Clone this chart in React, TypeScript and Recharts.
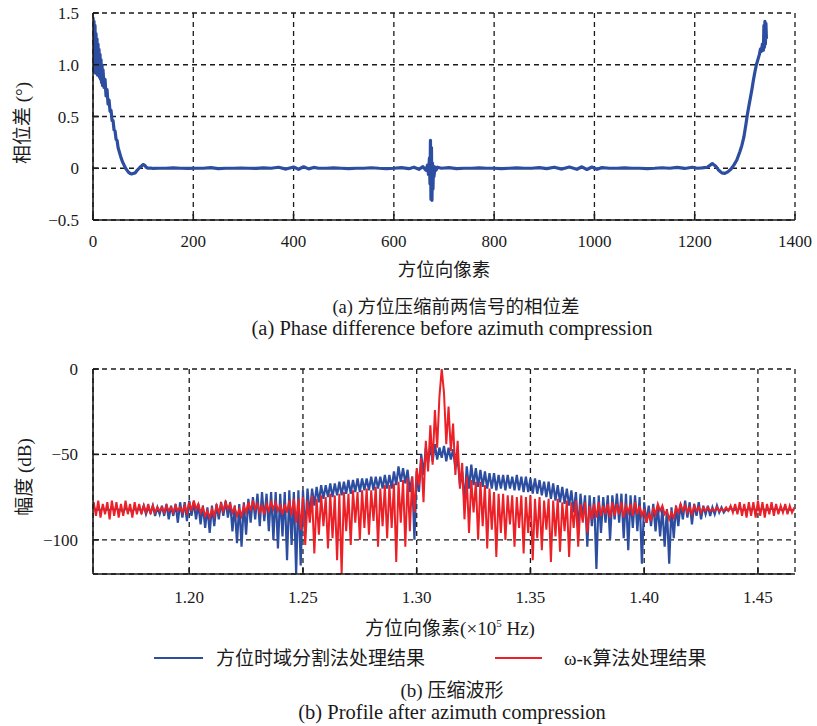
import React from 'react';
import { LineChart, Line, XAxis, YAxis, CartesianGrid } from 'recharts';

// ---------- (a) phase difference ----------
const topPixel = [
  0, 1, 2, 3, 4, 5, 6, 7, 8, 9, 10, 11, 12, 13, 14, 15, 16, 17, 18, 19, 20, 22, 24, 26, 28, 30, 32, 34, 36, 38,
  40, 42, 44, 46, 48, 50, 53, 56, 59, 62, 65, 68, 71, 74, 77, 80, 84, 88, 92, 96, 100, 103, 106, 110, 115, 120,
  130, 145, 160, 175, 190, 205, 220, 235, 250, 265, 280, 295, 310, 325, 340, 355, 370, 385, 400, 410, 420, 430,
  440, 450, 465, 480, 495, 510, 525, 540, 555, 570, 585, 600, 615, 630, 640, 650, 658, 664,
  667, 669, 671, 672, 673, 674, 675, 676, 677, 678, 679, 680, 682, 684, 687,
  695, 710, 725, 740, 755, 770, 785, 800, 815, 830, 845, 860, 875, 890, 905, 920, 935, 950, 965, 975, 985, 995,
  1005, 1015, 1030, 1045, 1060, 1075, 1090, 1105, 1120, 1135, 1150, 1165, 1180, 1195, 1205, 1215,
  1225, 1235, 1242, 1248, 1254, 1260, 1266, 1272, 1278, 1284, 1290, 1294, 1298, 1302, 1305, 1308, 1311, 1314,
  1317, 1320, 1323, 1326, 1329, 1331, 1333, 1335, 1337, 1338, 1339, 1340, 1341, 1342, 1343,
];
const topPhase = [
  1.46, 0.93, 1.42, 0.95, 1.38, 0.92, 1.3, 0.97, 1.25, 0.9, 1.2, 0.93, 1.15, 0.88, 1.1, 0.86, 1.05, 0.83, 1.0, 0.8, 0.95, 0.78, 0.86, 0.7, 0.76, 0.62, 0.66, 0.55, 0.56, 0.46,
  0.46, 0.37, 0.36, 0.28, 0.27, 0.2, 0.15, 0.1, 0.06, 0.03, 0.0, -0.02, -0.04, -0.05, -0.055, -0.05, -0.045, -0.02, 0.0, 0.02, 0.035, 0.03, 0.01, 0.0, 0.002, -0.002,
  0.0, 0.0, 0.004, 0.0, -0.002, 0.0, 0.0, 0.006, -0.003, 0.0, 0.0, 0.002, 0.0, -0.002, 0.004, 0.0, 0.01, -0.008, 0.012, -0.01, 0.014, -0.006,
  0.008, 0.0, 0.0, 0.004, 0.0, -0.004, 0.0, 0.0, 0.005, 0.0, -0.003, 0.0, 0.006, -0.004, 0.01, -0.01, 0.015, -0.02,
  0.03, -0.06, 0.1, -0.15, 0.27, -0.3, 0.2, -0.31, 0.05, -0.2, 0.02, -0.08, 0.01, -0.02, 0.01,
  0.0, 0.006, -0.004, 0.0, 0.0, 0.004, 0.0, 0.0, -0.003, 0.0, 0.004, 0.0, 0.0, 0.006, -0.004, 0.01, -0.008, 0.012, -0.01, 0.014, -0.012, 0.012,
  -0.01, 0.006, 0.0, 0.0, 0.004, 0.0, 0.0, -0.003, 0.0, 0.005, 0.0, 0.008, -0.002, 0.01, 0.0, 0.003,
  0.01, 0.045, 0.02, -0.02, -0.045, -0.05, -0.035, -0.01, 0.03, 0.08, 0.16, 0.22, 0.3, 0.42, 0.52, 0.6, 0.68, 0.76,
  0.85, 0.93, 1.0, 1.05, 1.1, 1.15, 1.13, 1.2, 1.14, 1.38, 1.17, 1.42, 1.2, 1.4, 1.25,
];
const topXTicks = [0, 200, 400, 600, 800, 1000, 1200, 1400];
const topYTicks = [-0.5, 0, 0.5, 1.0, 1.5];

// ---------- (b) azimuth profile ----------
const freqStart = 1.158; // ×10^5 Hz, sample grid start
const freqStep = 0.001;  // sample spacing
const blueDb = [
  -81, -83, -82, -83, -81, -83, -82, -83, -81, -83,
  -81, -83, -82, -84, -81, -83, -82, -84, -81, -83,
  -81, -84, -80, -85, -81, -84, -80, -86, -81, -85,
  -80, -86, -79, -88, -80, -86, -79, -90, -78, -87,
  -78, -89, -77, -86, -78, -88, -79, -91, -80, -93,
  -81, -96, -80, -92, -79, -88, -78, -86, -77, -87,
  -78, -95, -80, -102, -79, -104, -78, -97, -76, -90,
  -75, -88, -73, -92, -72, -89, -73, -95, -72, -100,
  -72, -105, -73, -98, -72, -112, -71, -103, -72, -120,
  -71, -115, -71, -96, -70, -86, -70, -80, -69, -78,
  -68, -76, -68, -75, -67, -75, -67, -74, -66, -74,
  -66, -73, -65, -73, -65, -72, -64, -72, -64, -71,
  -64, -71, -63, -71, -63, -70, -63, -70, -62, -70,
  -62, -70, -60, -68, -57, -66, -58, -67, -59, -72,
  -63, -100, -60, -72, -50, -62, -46, -55, -45, -54,
  -44, -53, -46, -52, -45, -54, -46, -53, -47, -58,
  -52, -68, -60, -78, -57, -70, -56, -68, -58, -69,
  -59, -69, -60, -70, -61, -70, -61, -71, -62, -70,
  -62, -71, -62, -70, -63, -71, -62, -71, -63, -72,
  -63, -72, -64, -73, -64, -73, -65, -74, -66, -75,
  -66, -76, -67, -77, -68, -78, -69, -79, -70, -80,
  -71, -84, -72, -95, -73, -88, -74, -104, -74, -92,
  -75, -117, -74, -96, -75, -90, -74, -100, -74, -88,
  -73, -90, -73, -99, -73, -106, -74, -93, -74, -95,
  -75, -114, -78, -90, -80, -92, -79, -95, -80, -98,
  -81, -104, -82, -114, -81, -99, -80, -92, -79, -88,
  -77, -87, -78, -91, -79, -86, -78, -88, -80, -85,
  -80, -86, -81, -85, -80, -84, -81, -84, -82, -83,
  -81, -83, -82, -83, -81, -83, -82, -83, -81, -83,
  -81, -83, -82, -83, -81, -83, -82, -83, -81, -83,
  -81, -83, -82, -83, -81, -83, -82, -83, -82,
];
const redDb = [
  -78, -86, -77, -87, -79, -85, -78, -88, -77, -86,
  -78, -87, -79, -86, -77, -85, -79, -87, -78, -85,
  -79, -85, -80, -84, -79, -85, -80, -84, -81, -83,
  -81, -84, -80, -83, -81, -84, -80, -83, -81, -84,
  -80, -84, -78, -83, -77, -82, -79, -84, -81, -86,
  -83, -87, -82, -86, -80, -84, -79, -83, -78, -82,
  -79, -84, -81, -86, -82, -86, -80, -84, -78, -83,
  -77, -82, -79, -84, -80, -85, -79, -83, -78, -82,
  -78, -83, -80, -85, -79, -84, -77, -86, -76, -90,
  -76, -94, -75, -103, -77, -90, -74, -108, -76, -97,
  -74, -92, -75, -105, -73, -99, -74, -112, -73, -120,
  -72, -95, -73, -103, -71, -90, -72, -100, -71, -93,
  -70, -97, -71, -89, -69, -104, -70, -92, -68, -99,
  -68, -93, -67, -113, -66, -90, -65, -104, -64, -95,
  -63, -84, -58, -68, -52, -78, -42, -60, -33, -56,
  -24, -46, -16, 0, -14, -44, -22, -48, -32, -62,
  -42, -70, -55, -88, -63, -96, -65, -84, -66, -100,
  -66, -92, -68, -105, -70, -94, -72, -110, -73, -96,
  -73, -100, -74, -91, -74, -104, -75, -93, -74, -108,
  -75, -96, -74, -112, -76, -99, -75, -106, -77, -94,
  -76, -113, -77, -98, -76, -107, -78, -95, -77, -110,
  -78, -93, -77, -104, -79, -90, -78, -96, -80, -88,
  -79, -87, -78, -86, -80, -85, -79, -87, -78, -86,
  -79, -85, -78, -87, -80, -84, -79, -86, -78, -85,
  -80, -86, -82, -90, -85, -89, -81, -85, -79, -83,
  -80, -85, -83, -88, -84, -87, -81, -84, -79, -83,
  -80, -84, -81, -85, -80, -83, -81, -84, -81, -83,
  -81, -83, -82, -83, -81, -83, -82, -83, -81, -83,
  -80, -84, -79, -85, -78, -86, -79, -87, -78, -86,
  -78, -87, -77, -86, -78, -87, -79, -85, -78, -86,
  -79, -85, -80, -84, -79, -85, -80, -84, -81,
];
const botXTicks = [1.2, 1.25, 1.3, 1.35, 1.4, 1.45];
const botYTicks = [-100, -50, 0];

const seriesNames = ['方位时域分割法处理结果', 'ω-κ算法处理结果'];
const BLUE = '#2C4DA0';
const RED = '#EC2027';
const INK = '#1a1a1a';
const SERIF = "'Liberation Serif', 'Noto Sans CJK SC', serif";

const topData = topPixel.map((p, i) => ({ px: p, v: topPhase[i] }));
const botData = blueDb.map((b, i) => ({ f: freqStart + i * freqStep, blue: b, red: redDb[i] }));

const minus = (s: string) => s.replace('-', '\u2212');
const tickStyle = { fontSize: 17, fontFamily: SERIF, fill: INK };

const abs = (o: React.CSSProperties): React.CSSProperties => ({
  position: 'absolute',
  whiteSpace: 'nowrap',
  fontFamily: SERIF,
  color: INK,
  lineHeight: 1,
  ...o,
});

export default function App() {
  return (
    <div style={{ position: 'relative', width: 817, height: 726, background: '#fff', overflow: 'hidden' }}>
      <style>{'body{margin:0}'}</style>

      {/* (a) */}
      <div style={{ position: 'absolute', left: 0, top: 0 }}>
        <LineChart width={817} height={250} data={topData} margin={{ top: 13, right: 22, bottom: 0, left: 33 }}>
          <CartesianGrid stroke={INK} strokeWidth={1.3} strokeDasharray="5 4" />
          <XAxis
            dataKey="px"
            type="number"
            domain={[0, 1400]}
            ticks={topXTicks}
            allowDataOverflow
            height={30}
            tickSize={-6}
            tickMargin={21}
            tick={tickStyle}
            axisLine={{ stroke: INK, strokeWidth: 1.6 }}
            tickLine={{ stroke: INK, strokeWidth: 1.6 }}
            tickFormatter={(v: number) => String(v)}
          />
          <YAxis
            type="number"
            domain={[-0.5, 1.5]}
            ticks={topYTicks}
            allowDataOverflow
            width={60}
            tickSize={-6}
            tickMargin={20}
            tick={tickStyle}
            axisLine={{ stroke: INK, strokeWidth: 1.6 }}
            tickLine={{ stroke: INK, strokeWidth: 1.6 }}
            tickFormatter={(v: number) => (v === 0 ? '0' : minus(v.toFixed(1)))}
          />
          <Line dataKey="v" type="linear" stroke={BLUE} strokeWidth={3.2} dot={false} isAnimationActive={false} strokeLinejoin="round" />
        </LineChart>
      </div>
      <div style={abs({ left: 22, top: 123, fontSize: 19, transform: 'translate(-50%,-50%) rotate(-90deg)' })}>相位差 (°)</div>
      <div style={abs({ left: 444, top: 270, fontSize: 18.5, transform: 'translate(-50%,-50%)' })}>方位向像素</div>
      <div style={abs({ left: 456, top: 307, fontSize: 18.5, transform: 'translate(-50%,-50%)' })}>(a) 方位压缩前两信号的相位差</div>
      <div style={abs({ left: 452, top: 328, fontSize: 20.5, transform: 'translate(-50%,-50%)' })}>(a) Phase difference before azimuth compression</div>

      {/* (b) */}
      <div style={{ position: 'absolute', left: 0, top: 350 }}>
        <LineChart width={817} height={260} data={botData} margin={{ top: 19, right: 22, bottom: 6, left: 33 }}>
          <CartesianGrid stroke={INK} strokeWidth={1.3} strokeDasharray="5 4" />
          <XAxis
            dataKey="f"
            type="number"
            domain={[1.1577, 1.4663]}
            ticks={botXTicks}
            allowDataOverflow
            height={30}
            tickSize={-6}
            tickMargin={23}
            tick={tickStyle}
            axisLine={{ stroke: INK, strokeWidth: 1.6 }}
            tickLine={{ stroke: INK, strokeWidth: 1.6 }}
            tickFormatter={(v: number) => v.toFixed(2)}
          />
          <YAxis
            type="number"
            domain={[-120, 0]}
            ticks={botYTicks}
            allowDataOverflow
            width={60}
            tickSize={-6}
            tickMargin={21}
            tick={tickStyle}
            axisLine={{ stroke: INK, strokeWidth: 1.6 }}
            tickLine={{ stroke: INK, strokeWidth: 1.6 }}
            tickFormatter={(v: number) => minus(String(v))}
          />
          <Line dataKey="blue" name={seriesNames[0]} type="linear" stroke={BLUE} strokeWidth={2.2} dot={false} isAnimationActive={false} />
          <Line dataKey="red" name={seriesNames[1]} type="linear" stroke={RED} strokeWidth={2} dot={false} isAnimationActive={false} />
        </LineChart>
      </div>
      <div style={abs({ left: 24, top: 477, fontSize: 19, transform: 'translate(-50%,-50%) rotate(-90deg)' })}>幅度 (dB)</div>
      <div style={abs({ left: 450, top: 628, fontSize: 19, transform: 'translate(-50%,-50%)' })}>
        方位向像素(×10<sup style={{ fontSize: 11 }}>5</sup> Hz)
      </div>

      {/* legend */}
      <div style={{ position: 'absolute', left: 154, top: 657, width: 49, height: 2, background: BLUE }} />
      <div style={abs({ left: 216, top: 658, fontSize: 19, transform: 'translateY(-50%)' })}>{seriesNames[0]}</div>
      <div style={{ position: 'absolute', left: 495, top: 657, width: 47, height: 2, background: RED }} />
      <div style={abs({ left: 564, top: 658, fontSize: 19, transform: 'translateY(-50%)' })}>{seriesNames[1]}</div>

      <div style={abs({ left: 452, top: 690, fontSize: 19, transform: 'translate(-50%,-50%)' })}>(b) 压缩波形</div>
      <div style={abs({ left: 452, top: 712, fontSize: 20.5, transform: 'translate(-50%,-50%)' })}>(b) Profile after azimuth compression</div>
    </div>
  );
}
